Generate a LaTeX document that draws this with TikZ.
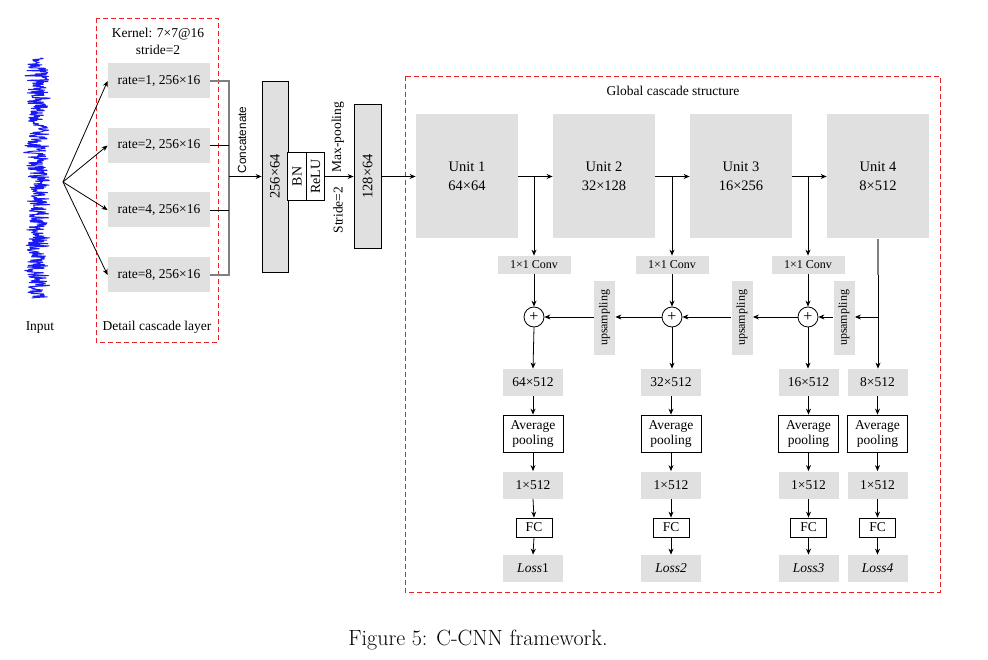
\documentclass[tikz,border=0pt]{standalone}
\usepackage{fontspec}
\newfontfamily\tnr{Liberation Serif}
\newfontfamily\arial{Liberation Sans}
\usetikzlibrary{arrows.meta}
\definecolor{boxgray}{RGB}{224,224,224}
\definecolor{dashred}{RGB}{232,32,40}
\definecolor{sigblue}{RGB}{25,25,245}
\definecolor{brgray}{RGB}{128,128,128}
\begin{document}
\begin{tikzpicture}[x=1pt,y=-1pt,
  line width=0.8pt,
  arr/.style={-{Stealth[length=6pt,width=5pt]}},
  txt/.style={font=\tnr\fontsize{13.5}{16}\selectfont, inner sep=0pt},
  gbox/.style={fill=boxgray, draw=none, inner sep=0pt, font=\tnr\fontsize{13.5}{16}\selectfont},
  bbox/.style={fill=boxgray, draw=black, inner sep=0pt},
  wbox/.style={fill=white, draw=black, inner sep=0pt, font=\tnr\fontsize{13.5}{16}\selectfont, align=center},
  unitbox/.style={gbox, minimum width=102pt, minimum height=124pt, align=center, font=\tnr\fontsize{14.5}{19}\selectfont},
  convbox/.style={gbox, minimum width=73pt, minimum height=18pt, font=\tnr\fontsize{12}{14}\selectfont},
  upbox/.style={gbox, minimum width=21pt, minimum height=73pt},
  dimbox/.style={gbox, minimum width=60pt, minimum height=27pt},
  avgbox/.style={wbox, minimum width=60pt, minimum height=37pt},
  fcbox/.style={wbox, minimum width=36pt, minimum height=19pt},
  plusc/.style={circle, draw=black, fill=white, minimum size=20pt, inner sep=0pt, font=\tnr\fontsize{16}{16}\selectfont},
  redframe/.style={draw=dashred, line width=0.9pt, dash pattern=on 5pt off 3pt},
]
\useasboundingbox (0,0) rectangle (988,660);

% ---- input signal
\pgfmathsetseed{7}
\draw[sigblue, line width=1pt, line join=round]
  plot[domain=58:298, samples=420] ({38+11*rand+6*rand*rand*rand}, \x);
\node[txt] (inputlbl) at (40,328) {Input};
\coordinate (fan) at (63,182);

% ---- detail cascade layer
\draw[redframe] (96,18) rectangle (218,342);
\node[txt] (kernel) at (158,34) {Kernel: 7×7@16};
\node[txt] (stride) at (158,50) {stride=2};
\node[txt] (detaillbl) at (157,327) {Detail cascade layer};

\node[gbox, minimum width=102pt, minimum height=35pt] (r1) at (159,81) {rate=1, 256×16};
\node[gbox, minimum width=102pt, minimum height=35pt] (r2) at (159,145.5) {rate=2, 256×16};
\node[gbox, minimum width=102pt, minimum height=35pt] (r3) at (159,210) {rate=4, 256×16};
\node[gbox, minimum width=102pt, minimum height=35pt] (r4) at (159,275) {rate=8, 256×16};

\foreach \r in {r1,r2,r3,r4} \draw[arr] (fan) -- (\r.west);

% ---- concatenate bracket
\coordinate (bt) at (229,81);
\coordinate (bb) at (229,275);
\coordinate (b2) at (229,145.5);
\coordinate (b3) at (229,210);
\coordinate (bm) at (229,176.5);
\draw[brgray, line width=1.6pt] (r1.east) -- (bt) -- (bb) -- (r4.east);
\draw (r2.east) -- (b2);
\draw (r3.east) -- (b3);
\node[font=\arial\fontsize{11.8}{14}\selectfont, rotate=90, inner sep=0pt] (concat) at (242,140) {Concatenate};

% ---- 256x64, BN, ReLU, 128x64
\node[bbox, minimum width=26pt, minimum height=191pt] (c256) at (275,176.5) {};
\node[font=\tnr\fontsize{14.5}{16}\selectfont, rotate=90, inner sep=0pt] (c256t) at (c256.center) {256×64};
\draw[arr] (bm) -- (c256.west |- bm);
\node[wbox, minimum width=19pt, minimum height=48pt] (bn) at (297,176.5) {};
\node[font=\tnr\fontsize{14}{16}\selectfont, rotate=90, inner sep=0pt] (bnt) at (bn.center) {BN};
\node[wbox, minimum width=18pt, minimum height=48pt] (relu) at (315.5,176.5) {};
\node[font=\tnr\fontsize{14}{16}\selectfont, rotate=90, inner sep=0pt] (relut) at (relu.center) {ReLU};

\node[bbox, minimum width=27pt, minimum height=144pt] (c128) at (367.5,176.5) {};
\node[font=\tnr\fontsize{14.5}{16}\selectfont, rotate=90, inner sep=0pt] (c128t) at (c128.center) {128×64};
\draw[arr] (relu.east) -- (c128.west);
\node[txt, rotate=90] (maxpool) at (338,137) {Max-pooling};
\node[txt, rotate=90] (stride2) at (338,210) {Stride=2};

% ---- global cascade structure
\draw[redframe] (405,76) rectangle (940,592);
\node[txt] (globallbl) at (673,91) {Global cascade structure};

\node[unitbox] (u1) at (467,176.5) {Unit 1\\64×64};
\node[unitbox] (u2) at (604,176.5) {Unit 2\\32×128};
\node[unitbox] (u3) at (741,176.5) {Unit 3\\16×256};
\node[unitbox] (u4) at (878,176.5) {Unit 4\\8×512};

\draw[arr] (c128.east) -- (u1.west);
\draw[arr] (u1.east) -- (u2.west);
\draw[arr] (u2.east) -- (u3.west);
\draw[arr] (u3.east) -- (u4.west);

\coordinate (k1) at (534,176.5);
\coordinate (k2) at (672,176.5);
\coordinate (k3) at (808,176.5);

\node[convbox] (cv1) at (534,265) {1×1 Conv};
\node[convbox] (cv2) at (672,265) {1×1 Conv};
\node[convbox] (cv3) at (808,265) {1×1 Conv};
\draw[arr] (k1) -- (cv1.north);
\draw[arr] (k2) -- (cv2.north);
\draw[arr] (k3) -- (cv3.north);

\node[plusc] (p1) at (534,317) {+};
\node[plusc] (p2) at (672,317) {+};
\node[plusc] (p3) at (808,317) {+};
\draw[arr] (cv1.south) -- (p1.north);
\draw[arr] (cv2.south) -- (p2.north);
\draw[arr] (cv3.south) -- (p3.north);

\node[upbox] (up1) at (604.5,318) {};
\node[upbox] (up2) at (742,318) {};
\node[upbox] (up3) at (844,318) {};
\foreach \u in {up1,up2,up3}
  \node[font=\tnr\fontsize{12}{14}\selectfont, rotate=90, inner sep=0pt] (\u t) at (\u.center) {upsampling};

\coordinate (j4) at (878,317);
\coordinate (g4) at (878,275);
\draw[arr] (j4) -- (up3.east |- j4);
\draw[arr] (up3.west |- p3) -- (p3.east);
\draw[arr] (p3.west) -- (up2.east |- p3);
\draw[arr] (up2.west |- p2) -- (p2.east);
\draw[arr] (p2.west) -- (up1.east |- p2);
\draw[arr] (up1.west |- p1) -- (p1.east);

% ---- output columns
\node[dimbox] (d1) at (533,382.5) {64×512};
\node[dimbox] (d2) at (671,382.5) {32×512};
\node[dimbox] (d3) at (808.5,382.5) {16×512};
\node[dimbox] (d4) at (877.5,382.5) {8×512};

\draw[brgray, line width=1.4pt] (u4.south -| j4) -- (g4);
\draw[arr] (g4) -- (d4.north -| g4);
\draw[arr] (p1.south) -- (d1.north);
\draw[arr] (p2.south) -- (d2.north -| p2);
\draw[arr] (p3.south) -- (d3.north -| p3);

\node[avgbox] (a1) at (533,433.5) {Average\\[-1pt]pooling};
\node[avgbox] (a2) at (671,433.5) {Average\\[-1pt]pooling};
\node[avgbox] (a3) at (808.5,433.5) {Average\\[-1pt]pooling};
\node[avgbox] (a4) at (877.5,433.5) {Average\\[-1pt]pooling};

\node[dimbox] (v1) at (533,485) {1×512};
\node[dimbox] (v2) at (671,485) {1×512};
\node[dimbox] (v3) at (808.5,485) {1×512};
\node[dimbox] (v4) at (877.5,485) {1×512};

\node[fcbox] (f1) at (534,527.5) {FC};
\node[fcbox] (f2) at (671,527.5) {FC};
\node[fcbox] (f3) at (808.5,527.5) {FC};
\node[fcbox] (f4) at (877.5,527.5) {FC};

\node[dimbox] (l1) at (533,568.5) {\textit{Loss}1};
\node[dimbox] (l2) at (671,568.5) {\textit{Loss2}};
\node[dimbox] (l3) at (808.5,568.5) {\textit{Loss3}};
\node[dimbox] (l4) at (877.5,568.5) {\textit{Loss4}};

\foreach \i in {1,2,3,4}{
  \draw[arr] (d\i.south) -- (a\i.north);
  \draw[arr] (a\i.south) -- (v\i.north);
  \draw[arr] (v\i.south) -- (f\i.north);
  \draw[arr] (f\i.south) -- (l\i.north);
}

% ---- caption
\node[font=\fontsize{22}{26}\selectfont, inner sep=0pt] (caption) at (478,640) {Figure 5: C-CNN framework.};
\end{tikzpicture}
\end{document}
